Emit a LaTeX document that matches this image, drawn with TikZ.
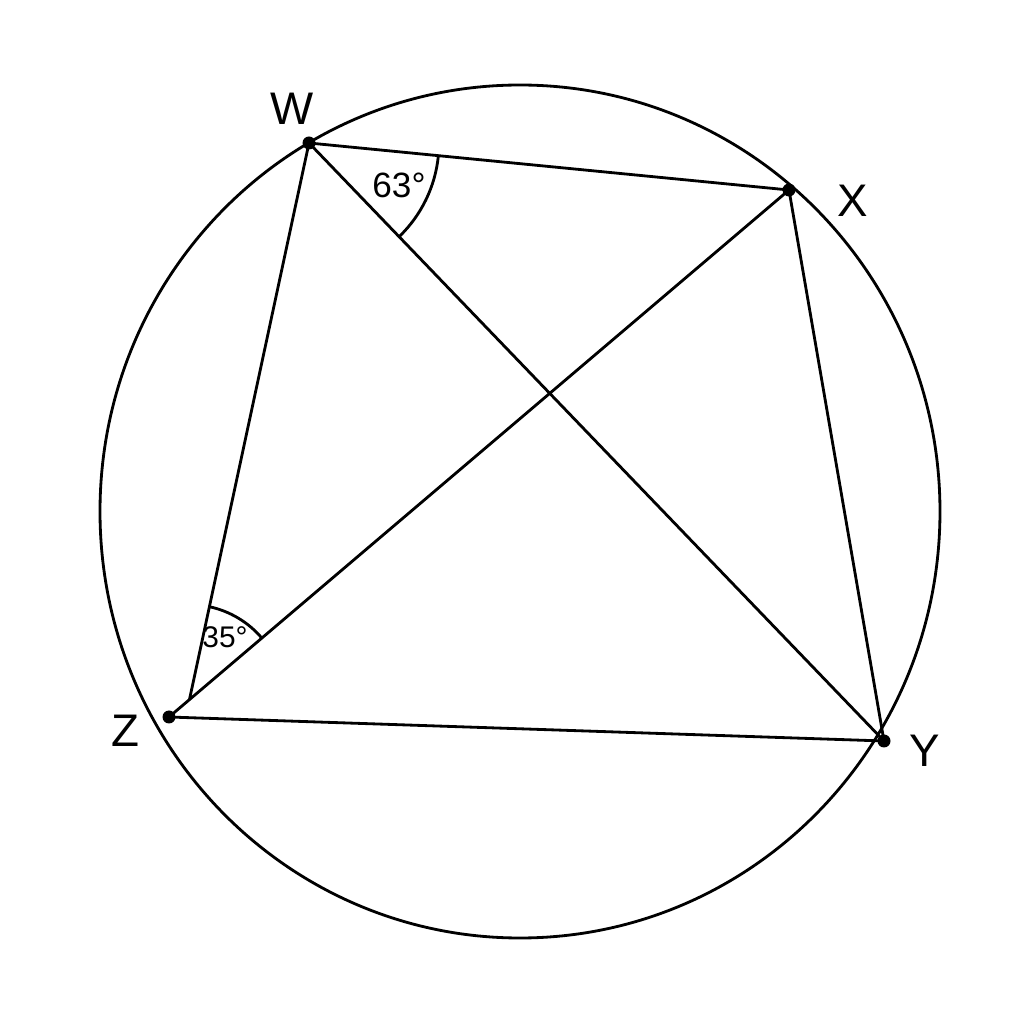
\documentclass[tikz,border=0pt]{standalone}
\usepackage{fontspec}
\setmainfont{Liberation Sans}
\usetikzlibrary{calc,angles}
\begin{document}
\begin{tikzpicture}[thick,main node/.style={circle,fill=black,minimum size=.13cm,inner sep=0pt},
  vlabel/.style={font=\fontsize{13}{15}\selectfont},
  alabel/.style={font=\fontsize{10}{12}\selectfont}]
\useasboundingbox (0,0) rectangle (10.24,10.24);
\fill[white] (0,0) rectangle (10.24,10.24);
\draw (5.20,5.125) ellipse [x radius=4.2, y radius=4.265];
\begin{scope}
\node[main node] (w) at (3.09,8.81) {};
\node[main node] (x) at (7.89,8.34) {};
\node[main node] (y) at (8.84,2.83) {};
\node[main node] (z) at (1.69,3.07) {};
\coordinate (j) at ($(z.center)!0.033!(x.center)$);
\end{scope}
\begin{scope}
\draw (w.center) -- (x.center);
\draw (x.center) -- (y.center);
\draw (y.center) -- (z.center);
\draw (w.center) -- (j);
\draw (w.center) -- (y.center);
\draw (z.center) -- (x.center);
\end{scope}
% angle marks
\draw pic[draw,angle radius=1.3cm] {angle = y--w--x};
\draw pic[draw,angle radius=0.95cm] {angle = x--j--w};
\node[alabel] (a1) at (3.99,8.39) {63°};
\node[alabel,font=\fontsize{8.5}{10}\selectfont] (a2) at (2.25,3.87) {35°};
% vertex labels
\node[vlabel] (lw) at (2.92,9.15) {W};
\node[vlabel] (lx) at (8.53,8.23) {X};
\node[vlabel] (ly) at (9.25,2.73) {Y};
\node[vlabel] (lz) at (1.25,2.93) {Z};
\end{tikzpicture}
\end{document}
